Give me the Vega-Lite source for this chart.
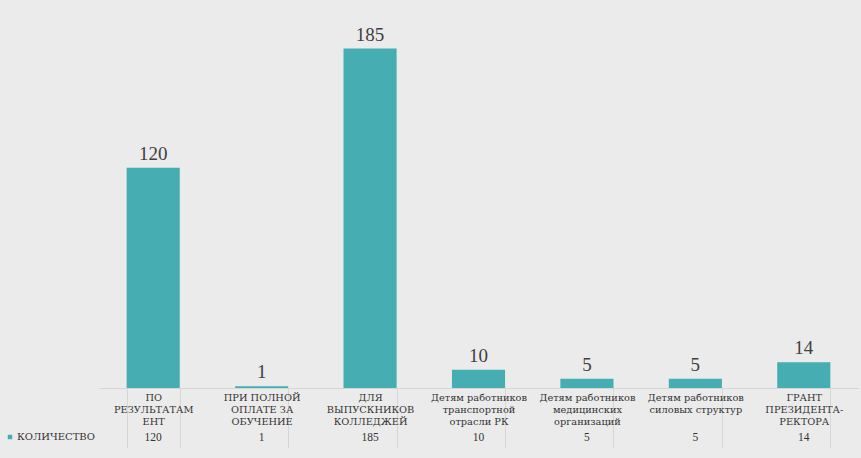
{
  "$schema": "https://vega.github.io/schema/vega-lite/v6.json",
  "width": 759,
  "height": 367,
  "autosize": {"type": "none"},
  "padding": {"left": 99, "top": 21, "right": 3, "bottom": 70},
  "background": "#ebebeb",
  "config": {
    "view": {"stroke": null},
    "font": "Liberation Serif",
    "text": {"font": "Liberation Serif"},
    "axis": {"labelFont": "DejaVu Serif"},
    "legend": {"labelFont": "DejaVu Serif"}
  },
  "data": {
    "values": [
      {"category": "ПО\nРЕЗУЛЬТАТАМ\nЕНТ", "value": 120},
      {"category": "ПРИ ПОЛНОЙ\nОПЛАТЕ ЗА\nОБУЧЕНИЕ", "value": 1},
      {"category": "ДЛЯ\nВЫПУСКНИКОВ\nКОЛЛЕДЖЕЙ", "value": 185},
      {"category": "Детям работников\nтранспортной\nотрасли РК", "value": 10},
      {"category": "Детям работников\nмедицинских\nорганизаций", "value": 5},
      {"category": "Детям работников\nсиловых структур", "value": 5},
      {"category": "ГРАНТ\nПРЕЗИДЕНТА-\nРЕКТОРА", "value": 14}
    ]
  },
  "encoding": {
    "x": {
      "field": "category",
      "type": "nominal",
      "sort": null,
      "scale": {"paddingInner": 0.51, "paddingOuter": 0.255},
      "axis": {
        "title": null,
        "labelAngle": 0,
        "labelExpr": "split(datum.label, '\\n')",
        "labelBaseline": "top",
        "labelAlign": "center",
        "labelFont": "DejaVu Serif",
        "labelFontSize": 9.8,
        "labelColor": "#333333",
        "labelPadding": -55.5,
        "labelLimit": 0,
        "ticks": true,
        "tickSize": 60,
        "tickBand": "extent",
        "tickColor": "#d6d6d6",
        "domainColor": "#d6d6d6",
        "grid": false,
        "encode": {
          "labels": {
            "update": {
              "lineHeight": {"signal": "indexof(datum.value, 'Детям') >= 0 ? 10.5 : 12.8"},
              "dy": {"signal": "indexof(datum.value, 'Детям') >= 0 ? 3 : 0"}
            }
          }
        }
      }
    }
  },
  "layer": [
    {
      "mark": {"type": "bar"},
      "encoding": {
        "y": {"field": "value", "type": "quantitative", "scale": {"domain": [0, 200]}, "axis": null},
        "color": {
          "datum": "КОЛИЧЕСТВО",
          "scale": {"range": ["#46adb2"]},
          "legend": {
            "orient": "none",
            "legendX": -94,
            "legendY": 411,
            "title": null,
            "symbolType": "square",
            "symbolSize": 20,
            "symbolStrokeWidth": 0,
            "labelFont": "DejaVu Serif",
            "labelFontSize": 10,
            "labelColor": "#333333",
            "labelOffset": 2,
            "padding": 0
          }
        }
      }
    },
    {
      "mark": {"type": "text", "baseline": "alphabetic", "dy": -8, "fontSize": 19, "color": "#404040"},
      "encoding": {
        "y": {"field": "value", "type": "quantitative"},
        "text": {"field": "value", "type": "quantitative"}
      }
    },
    {
      "mark": {"type": "text", "baseline": "middle", "dy": 50, "fontSize": 11.5, "color": "#333333"},
      "encoding": {
        "y": {"datum": 0, "type": "quantitative"},
        "text": {"field": "value", "type": "quantitative"}
      }
    }
  ]
}
